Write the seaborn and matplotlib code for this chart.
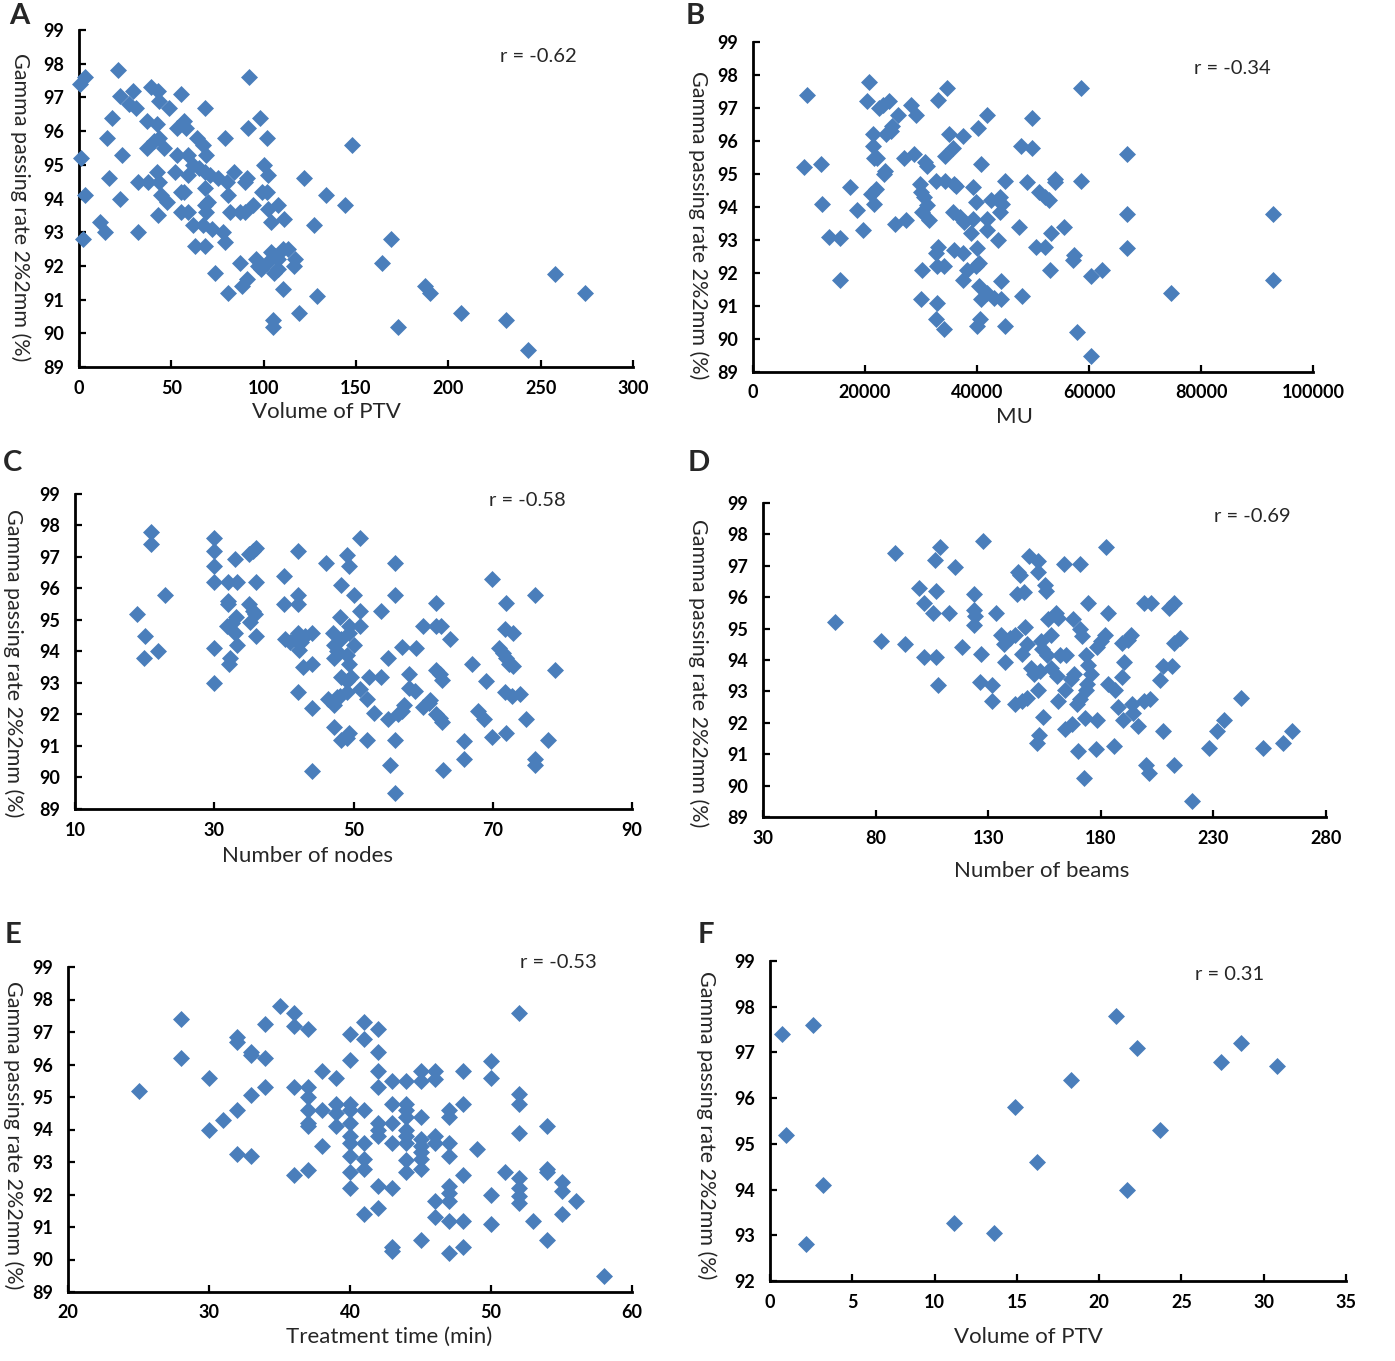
import matplotlib
matplotlib.use("Agg")
import matplotlib.pyplot as plt
import seaborn as sns

## Data
# A: gamma passing rate vs volume of PTV
vol_a = [0.7, 3, 1, 3, 2, 21, 22, 29, 27, 31,
         18, 15, 23.5, 16, 22, 11.5, 14, 32, 32, 39,
         43, 43.5, 49, 55, 37, 42, 37, 40.5, 43.5, 46,
         37.5, 42, 43.5, 44.5, 47.5, 43, 52, 53, 53, 58,
         57, 59, 61.5, 55.5, 59, 57, 55.5, 59, 62, 63,
         68.5, 64, 67, 69, 68.5, 68.5, 71, 68.5, 68, 69,
         67, 72, 79, 80, 80.5, 82, 84, 91, 90, 92,
         91.5, 98, 102, 100, 102.5, 99, 102, 87, 90, 94,
         102.5, 108, 104, 111, 78, 79, 87, 73.5, 80.5, 88,
         91, 96, 98.5, 102, 104, 105.5, 108, 110.5, 113, 108,
         117, 116.5, 110.5, 105, 105, 119, 122, 127.5, 129, 134,
         144, 148, 169, 164, 187.5, 190, 173, 207, 231, 243,
         258, 274, 65, 75, 97, 106, 70]
gpr_a = [97.4, 97.6, 95.2, 94.1, 92.8, 97.8, 97.05, 97.2, 96.8, 96.7,
         96.4, 95.8, 95.3, 94.6, 94.0, 93.3, 93.0, 93.0, 94.5, 97.3,
         97.2, 96.9, 96.7, 97.1, 96.3, 96.2, 95.5, 95.7, 95.8, 95.5,
         94.5, 94.8, 94.5, 94.1, 93.9, 93.5, 94.8, 95.3, 96.1, 96.1,
         96.3, 95.3, 95.0, 94.2, 94.7, 94.2, 93.6, 93.6, 93.2, 92.6,
         92.6, 95.8, 95.6, 95.3, 96.7, 94.8, 94.7, 94.3, 93.8, 93.6,
         93.2, 93.1, 95.8, 94.5, 94.1, 93.6, 94.8, 94.6, 94.5, 97.6,
         96.1, 96.4, 95.8, 95.0, 94.7, 94.2, 94.2, 93.6, 93.6, 93.8,
         93.7, 93.8, 93.3, 93.4, 93.0, 92.7, 92.1, 91.8, 91.2, 91.4,
         91.6, 92.2, 91.9, 92.1, 92.4, 91.8, 92.2, 92.5, 92.5, 91.9,
         92.2, 92.0, 91.3, 90.4, 90.2, 90.6, 94.6, 93.2, 91.1, 94.1,
         93.8, 95.6, 92.8, 92.1, 91.4, 91.2, 90.2, 90.6, 90.4, 89.5,
         91.75, 91.2, 94.9, 94.6, 92.0, 92.3, 93.9]

# B: gamma passing rate vs MU
mu_b = [9600, 9100, 12100, 12250, 13600, 15500, 15500, 17400, 18600, 19600,
        20800, 20400, 21500, 21400, 21600, 22200, 21100, 21900, 21600, 23500,
        23400, 22500, 23300, 24300, 23700, 24600, 24900, 25900, 25300, 27300,
        28200, 29100, 28700, 27000, 30800, 31000, 29800, 30000, 30600, 31000,
        30200, 31400, 30200, 30000, 33100, 34700, 35000, 34300, 35800, 37500,
        32700, 34300, 35900, 36300, 35800, 36900, 37700, 33100, 32700, 32900,
        34100, 35900, 37500, 37500, 32800, 32700, 34100, 39200, 39900, 40200,
        41800, 40800, 39200, 41800, 39000, 40000, 38200, 39900, 40400, 41800,
        42500, 44100, 44500, 43800, 44100, 40400, 40800, 41800, 43100, 44200,
        44200, 40600, 40000, 45000, 45000, 47800, 49800, 49800, 49000, 47500,
        48000, 51000, 52200, 52900, 50600, 52200, 53200, 53100, 54000, 54000,
        55500, 57300, 57200, 58600, 58600, 57800, 60400, 60300, 62400, 66800,
        66800, 66800, 74700, 92900, 92900]
gpr_b = [97.4, 95.2, 95.3, 94.1, 93.1, 93.05, 91.8, 94.6, 93.9, 93.3,
         97.8, 97.2, 96.2, 95.85, 95.5, 95.5, 94.4, 94.55, 94.1, 95.1,
         95.0, 97.0, 97.1, 97.2, 96.2, 96.3, 96.45, 96.8, 93.5, 93.6,
         97.1, 96.8, 95.6, 95.5, 95.35, 95.25, 94.7, 94.45, 94.3, 94.05,
         93.85, 93.6, 92.1, 91.2, 97.25, 97.6, 96.2, 95.55, 95.8, 96.15,
         94.8, 94.8, 94.7, 94.65, 93.85, 93.7, 93.55, 92.8, 92.6, 92.2,
         92.2, 92.7, 92.6, 91.8, 91.1, 90.6, 90.3, 94.6, 94.15, 96.4,
         96.8, 95.3, 93.65, 93.65, 93.2, 92.75, 92.1, 92.2, 92.3, 93.3,
         94.2, 94.3, 94.1, 93.0, 93.85, 91.6, 91.2, 91.4, 91.25, 91.2,
         91.75, 90.6, 90.4, 90.4, 94.8, 95.85, 95.8, 96.7, 94.75, 93.4,
         91.3, 94.45, 94.3, 94.2, 92.8, 92.8, 93.2, 92.1, 94.75, 94.85,
         93.4, 92.55, 92.4, 94.8, 97.6, 90.2, 89.5, 91.9, 92.1, 95.6,
         93.8, 92.75, 91.4, 93.8, 91.8]

# C: gamma passing rate vs number of nodes
nodes_c = [18.9, 20.9, 20.9, 20, 19.9, 21.9, 22.9, 30, 30, 30,
           30, 30, 30, 32, 33.2, 33, 32, 32, 31.8, 32.5,
           33, 33.1, 32.2, 32.1, 33.2, 35, 35.6, 36, 35, 35.5,
           35.9, 35.1, 36, 36, 40, 40, 42, 42, 42, 40.2,
           40.9, 41.6, 42, 42.5, 42.2, 43.1, 44, 42.8, 44, 42,
           44, 44, 46, 47.1, 47.2, 47.6, 47.2, 48.2, 48, 48.2,
           48.2, 49, 49.3, 49.3, 49.1, 49.3, 49.3, 49.6, 49.1, 49,
           46.3, 47.2, 47.6, 48, 47.2, 48.2, 49.3, 49, 50.1, 50.1,
           51, 51, 51, 51, 52.2, 51.9, 52, 53, 54, 54,
           55, 55.2, 54.9, 56, 56, 56, 56, 56.4, 57, 57.2,
           57, 57.9, 57.9, 58.8, 59, 60, 60, 60.9, 61, 61.8,
           62.6, 61.9, 61.8, 62.4, 62.7, 61.8, 62.4, 62.7, 63.9, 62.8,
           65.9, 65.9, 67, 67.9, 68.7, 69, 69.9, 69.9, 70.9, 71.5,
           71.9, 72.4, 72.9, 71.8, 72.9, 71.9, 71.8, 72.7, 73.9, 71.9,
           74.8, 76, 76, 76, 78, 79]
gpr_c = [95.2, 97.8, 97.4, 94.5, 93.8, 94.0, 95.8, 97.6, 97.2, 96.7,
         96.2, 94.1, 93.0, 96.2, 96.2, 96.95, 95.6, 95.5, 94.8, 94.9,
         94.6, 95.1, 93.8, 93.6, 94.2, 97.1, 97.2, 97.3, 95.5, 95.3,
         95.2, 94.95, 96.2, 94.5, 96.4, 95.5, 97.2, 95.8, 95.5, 94.4,
         94.3, 94.4, 94.6, 94.3, 94.05, 94.5, 94.6, 93.5, 93.6, 92.7,
         92.2, 90.2, 96.8, 94.6, 94.2, 94.0, 93.8, 96.1, 95.1, 94.4,
         93.2, 93.9, 94.6, 94.8, 97.05, 96.7, 93.6, 93.2, 93.05, 92.7,
         92.5, 92.3, 92.55, 92.6, 91.6, 91.2, 91.4, 91.25, 94.2, 95.8,
         97.6, 95.3, 94.8, 92.8, 93.2, 92.5, 91.2, 92.05, 95.3, 93.2,
         93.8, 90.4, 91.85, 96.8, 95.8, 91.2, 89.5, 92.0, 92.1, 92.3,
         94.15, 93.3, 92.85, 92.75, 94.1, 94.8, 92.25, 92.35, 92.45, 94.8,
         94.8, 95.55, 93.4, 93.3, 93.1, 92.0, 91.9, 91.75, 94.4, 90.25,
         91.15, 90.6, 93.6, 92.1, 91.85, 93.05, 96.3, 91.3, 94.1, 93.95,
         93.8, 93.6, 93.55, 94.7, 94.6, 95.55, 92.7, 92.6, 92.65, 91.4,
         91.85, 95.8, 90.6, 90.4, 91.2, 93.4]

# D: gamma passing rate vs number of beams
beams_d = [61.8, 82.5, 88.6, 93.2, 99.3, 101.7, 101.3, 106.4, 108.4, 106.8,
           105.4, 106.8, 107.8, 112.4, 115.4, 118.5, 123.6, 123.6, 124.2, 123.6,
           127.6, 127, 126.2, 131.7, 131.7, 133.3, 135.8, 137.2, 137.4, 139.8,
           141.8, 143.3, 143.9, 142.9, 145.9, 146.5, 147.3, 145, 141.8, 145,
           147.3, 147.9, 152, 152, 155, 155.5, 153.4, 154, 156, 148.9,
           150.5, 153, 152, 158, 156.6, 160.1, 161.1, 158, 162, 164.6,
           160.5, 161, 164, 154.3, 152.7, 151.7, 164, 167, 166.8, 168.2,
           167.6, 170.8, 171.6, 170.8, 163.5, 169.3, 170.8, 173.5, 173.9, 173.5,
           174.3, 175.5, 172.9, 169.9, 172.4, 174.5, 178.5, 177.7, 178.5, 180,
           181.8, 182.2, 183.2, 183.2, 186.4, 187.5, 185.9, 189.4, 190.4, 189.4,
           192, 193.5, 189.9, 193.9, 194.3, 196.3, 199.4, 202.4, 200, 201.4,
           199.4, 202, 206.4, 207.5, 207.5, 210.1, 212.6, 211.5, 212.6, 215,
           212.6, 220.3, 227.9, 231.6, 234.5, 242.2, 251.9, 260.8, 264.9]
gpr_d = [95.2, 94.6, 97.4, 94.5, 96.3, 95.8, 94.1, 97.2, 97.6, 96.2,
         95.5, 94.1, 93.2, 95.5, 96.95, 94.4, 96.1, 95.6, 95.4, 95.1,
         97.8, 94.2, 93.3, 93.2, 92.7, 95.5, 94.8, 94.5, 93.95, 94.7,
         94.8, 96.8, 96.7, 96.1, 96.15, 95.05, 94.5, 94.2, 92.6, 92.7,
         92.8, 97.3, 97.15, 96.8, 96.4, 96.2, 94.6, 94.35, 94.15, 93.75,
         93.55, 93.65, 93.05, 94.8, 95.3, 95.5, 95.35, 93.75, 94.15, 94.15,
         93.5, 92.7, 93.05, 92.2, 91.6, 91.35, 91.8, 91.95, 93.4, 93.55,
         95.3, 95.0, 94.75, 97.05, 97.05, 92.6, 92.75, 93.05, 93.25, 94.15,
         93.85, 93.55, 92.15, 91.1, 90.25, 95.8, 92.1, 91.15, 94.4, 94.6,
         94.8, 97.6, 95.5, 93.25, 93.05, 92.5, 91.25, 93.45, 93.95, 94.55,
         94.65, 94.8, 92.1, 92.6, 92.3, 91.9, 95.8, 95.8, 90.65, 90.4,
         92.7, 92.75, 93.35, 93.8, 91.75, 95.65, 95.8, 93.8, 94.55, 94.7,
         90.65, 89.5, 91.2, 91.75, 92.1, 92.8, 91.2, 91.35, 91.75]

# E: gamma passing rate vs treatment time
time_e = [25, 28, 28, 30, 30, 31, 32, 32, 32, 32,
          33, 33, 33, 33, 34, 34, 34, 35, 36, 36,
          36, 36, 37, 37, 37, 37, 37, 37, 37, 38,
          38, 38, 39, 39, 39, 39, 40, 40, 40, 40,
          40, 40, 40, 40, 40, 40, 41, 41, 41, 41,
          41, 41, 41, 42, 42, 42, 42, 42, 42, 42,
          42, 42, 43, 43, 43, 43, 43, 43, 43, 44,
          44, 44, 44, 44, 44, 44, 44, 44, 45, 45,
          45, 45, 45, 45, 45, 45, 45, 46, 46, 46,
          46, 46, 46, 47, 47, 47, 47, 47, 47, 47,
          47, 47, 48, 48, 48, 48, 48, 49, 50, 50,
          50, 50, 51, 52, 52, 52, 52, 52, 52, 52,
          52, 53, 54, 54, 54, 54, 55, 55, 55, 56,
          58]
gpr_e = [95.2, 97.4, 96.2, 95.6, 94.0, 94.3, 96.85, 96.7, 94.6, 93.25,
         96.4, 96.3, 95.05, 93.2, 97.25, 96.2, 95.3, 97.8, 97.6, 97.2,
         95.3, 92.6, 97.1, 95.3, 95.0, 94.6, 94.2, 94.1, 92.75, 95.8,
         94.6, 93.5, 95.6, 94.8, 94.5, 94.1, 96.95, 96.15, 94.8, 94.6,
         94.2, 93.8, 93.6, 93.2, 92.7, 92.2, 97.3, 96.8, 94.6, 93.6,
         93.1, 92.8, 91.4, 97.1, 96.4, 95.8, 95.3, 94.2, 94.0, 93.8,
         92.25, 91.6, 95.5, 94.8, 94.2, 93.6, 92.2, 90.4, 90.25, 95.5,
         94.8, 94.6, 94.4, 94.0, 93.8, 93.6, 93.05, 92.7, 95.8, 95.5,
         94.4, 93.7, 93.5, 93.3, 93.1, 92.8, 90.6, 95.8, 95.55, 93.8,
         93.6, 91.8, 91.3, 94.6, 94.4, 93.6, 93.2, 92.25, 92.05, 91.8,
         91.2, 90.2, 95.8, 94.8, 92.6, 91.2, 90.4, 93.4, 96.1, 95.6,
         92.0, 91.1, 92.7, 97.6, 95.1, 94.8, 93.9, 92.5, 92.2, 91.95,
         91.75, 91.2, 94.1, 92.8, 92.7, 90.6, 92.4, 92.1, 91.4, 91.8,
         89.5]

# F: gamma passing rate vs volume of PTV (small subset)
vol_f = [0.7, 1.0, 2.2, 2.6, 3.2, 11.2, 13.6, 14.9, 16.25, 18.3,
         21.05, 21.7, 22.3, 23.7, 27.4, 28.6, 30.8]
gpr_f = [97.4, 95.2, 92.8, 97.6, 94.1, 93.27, 93.05, 95.8, 94.6, 96.4,
         97.8, 94.0, 97.1, 95.3, 96.8, 97.2, 96.7]

panels = ["A", "B", "C", "D", "E", "F"]
r_labels = ["r = -0.62", "r = -0.34", "r = -0.58", "r = -0.69", "r = -0.53", "r = 0.31"]
x_titles = ["Volume of PTV", "MU", "Number of nodes", "Number of beams",
            "Treatment time (min)", "Volume of PTV"]
y_title = "Gamma passing rate 2%2mm (%)"

sns.set_style("ticks")
plt.rcParams['font.family'] = ['Lato', 'DejaVu Sans']

W, H = 1395, 1361
fig = plt.figure(figsize=(W / 100, H / 100), dpi=100)

def px_axes(left, right, top, bottom):
    return fig.add_axes([left / W, 1 - bottom / H, (right - left) / W, (bottom - top) / H])

def px_text(x, y, s, **kw):
    fig.text(x / W, 1 - y / H, s, **kw)

# pixel boxes of each plot area (left, right, top, bottom)
boxes = [(79, 633, 30, 367), (753, 1313, 42, 372),
         (75, 632, 494, 809), (763, 1326, 503, 817),
         (68, 632, 967, 1292), (770, 1346, 961, 1281)]
xlims = [(0, 300), (0, 100000), (10, 90), (30, 280), (20, 60), (0, 35)]
xsteps = [50, 20000, 20, 50, 10, 5]
ylims = [(89, 99)] * 5 + [(92, 99)]
xs = [vol_a, mu_b, nodes_c, beams_d, time_e, vol_f]
ys = [gpr_a, gpr_b, gpr_c, gpr_d, gpr_e, gpr_f]

letter_pos = [(9, 16), (686, 16), (3, 463), (688, 463), (5, 935), (698, 935)]
r_pos = [(538, 57), (1232, 69), (527, 500), (1252, 516), (558, 962), (1230, 974)]
xlab_pos = [(326, 412), (1015, 417), (307, 856), (1042, 871), (389, 1337), (1028, 1337)]
ylab_pos = [(20, 207), (698, 225), (13, 663), (698, 673), (13, 1135), (706, 1125)]

for i in range(6):
    ax = px_axes(*boxes[i])
    sns.scatterplot(x=xs[i], y=ys[i], ax=ax, marker="D", s=75, color="#4A7EBB",
                    linewidth=0, clip_on=False, zorder=3)
    x0, x1 = xlims[i]
    y0, y1 = ylims[i]
    ax.set_xlim(x0, x1)
    ax.set_ylim(y0, y1)
    ax.set_xticks(range(x0, x1 + 1, xsteps[i]))
    ax.set_yticks(range(y0, y1 + 1))
    sns.despine(ax=ax)
    for sp in ["left", "bottom"]:
        ax.spines[sp].set_linewidth(2)
        ax.spines[sp].set_color("black")
    ax.tick_params(direction="in", length=5, width=1.6, labelsize=13, colors="black")
    ax.tick_params(axis="x", pad=9)
    ax.tick_params(axis="y", pad=11)
    for lab in ax.get_xticklabels() + ax.get_yticklabels():
        lab.set_fontweight("bold")
    ax.set_xlabel("")
    ax.set_ylabel("")

    px_text(*letter_pos[i], panels[i], fontsize=21, fontweight="bold", ha="left", va="center")
    px_text(*r_pos[i], r_labels[i], fontsize=14.5, ha="center", va="center")
    px_text(*xlab_pos[i], x_titles[i], fontsize=16, ha="center", va="center")
    px_text(*ylab_pos[i], y_title, fontsize=15.5, ha="center", va="center", rotation=270)

fig.savefig("out.png", dpi=100, facecolor="white")
